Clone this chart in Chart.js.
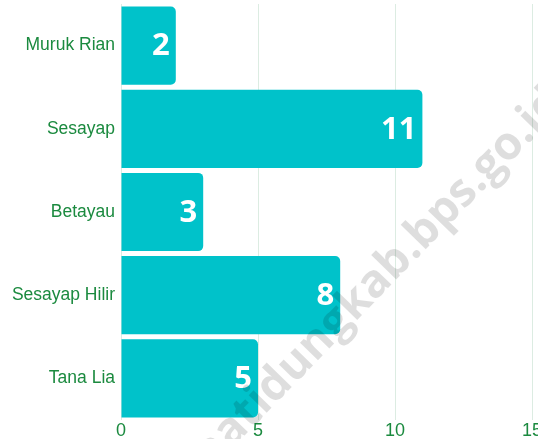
<!DOCTYPE html>
<html>
<head>
<meta charset="utf-8">
<script src="https://cdn.jsdelivr.net/npm/chart.js@4"></script>
<style>
  html, body { margin: 0; padding: 0; background: #fff; }
  #wrap { width: 538px; height: 439px; position: relative; }
</style>
</head>
<body>
<div id="wrap"><canvas id="chart"></canvas></div>
<script>
const categories = ['Muruk Rian', 'Sesayap', 'Betayau', 'Sesayap Hilir', 'Tana Lia'];
const values = [2, 11, 3, 8, 5];
const xTicks = [0, 5, 10, 15];

const labelGreen = '#1b8a3f';
const barColor = '#00c2ca';

// white numbers at the end of each bar
const valueLabels = {
    id: 'valueLabels',
    afterDatasetsDraw(chart) {
        const ctx = chart.ctx;
        const meta = chart.getDatasetMeta(0);
        ctx.save();
        ctx.fillStyle = '#fff';
        ctx.font = 'bold 31px "Open Sans"';
        ctx.textAlign = 'right';
        ctx.textBaseline = 'middle';
        meta.data.forEach((bar, i) => {
            ctx.fillText(values[i], bar.x - 6, bar.y + 1);
        });
        ctx.restore();
    }
};

// faint site watermark across the chart
const watermark = {
    id: 'watermark',
    afterDraw(chart) {
        const ctx = chart.ctx;
        ctx.save();
        ctx.translate(362, 296);
        ctx.rotate(-0.8);
        ctx.fillStyle = 'rgba(0,0,0,0.13)';
        ctx.font = 'bold 46px "Open Sans"';
        ctx.textAlign = 'center';
        ctx.textBaseline = 'middle';
        ctx.fillText('tanatidungkab.bps.go.id', 0, 0);
        ctx.restore();
    }
};

new Chart(document.getElementById('chart'), {
    type: 'bar',
    data: {
        labels: categories,
        datasets: [{
            data: values,
            backgroundColor: barColor,
            borderRadius: 5,
            borderSkipped: 'start',
            barPercentage: 0.94,
            categoryPercentage: 1
        }]
    },
    options: {
        indexAxis: 'y',
        responsive: true,
        maintainAspectRatio: false,
        animation: false,
        layout: { padding: { top: 4, right: 6, left: 0, bottom: 0 } },
        plugins: {
            legend: { display: false },
            tooltip: { enabled: false }
        },
        scales: {
            x: {
                min: 0,
                max: 15,
                afterBuildTicks(scale) {
                    scale.ticks = xTicks.map(v => ({ value: v }));
                },
                afterFit(scale) {
                    scale.paddingRight = 0;
                    scale.paddingLeft = 0;
                    scale.height = 19;
                },
                grid: { color: '#dcece2', drawTicks: false },
                border: { display: false },
                ticks: {
                    color: labelGreen,
                    font: { family: 'Liberation Sans', size: 18 },
                    padding: 0
                }
            },
            y: {
                afterFit(scale) {
                    scale.paddingTop = 0;
                    scale.paddingBottom = 0;
                    scale.width = 121;
                },
                grid: { display: false, drawTicks: false, tickLength: 0 },
                border: { display: false },
                ticks: {
                    color: labelGreen,
                    font: { family: 'Liberation Sans', size: 17.5 },
                    padding: 6
                }
            }
        }
    },
    plugins: [valueLabels, watermark]
});
</script>
</body>
</html>
